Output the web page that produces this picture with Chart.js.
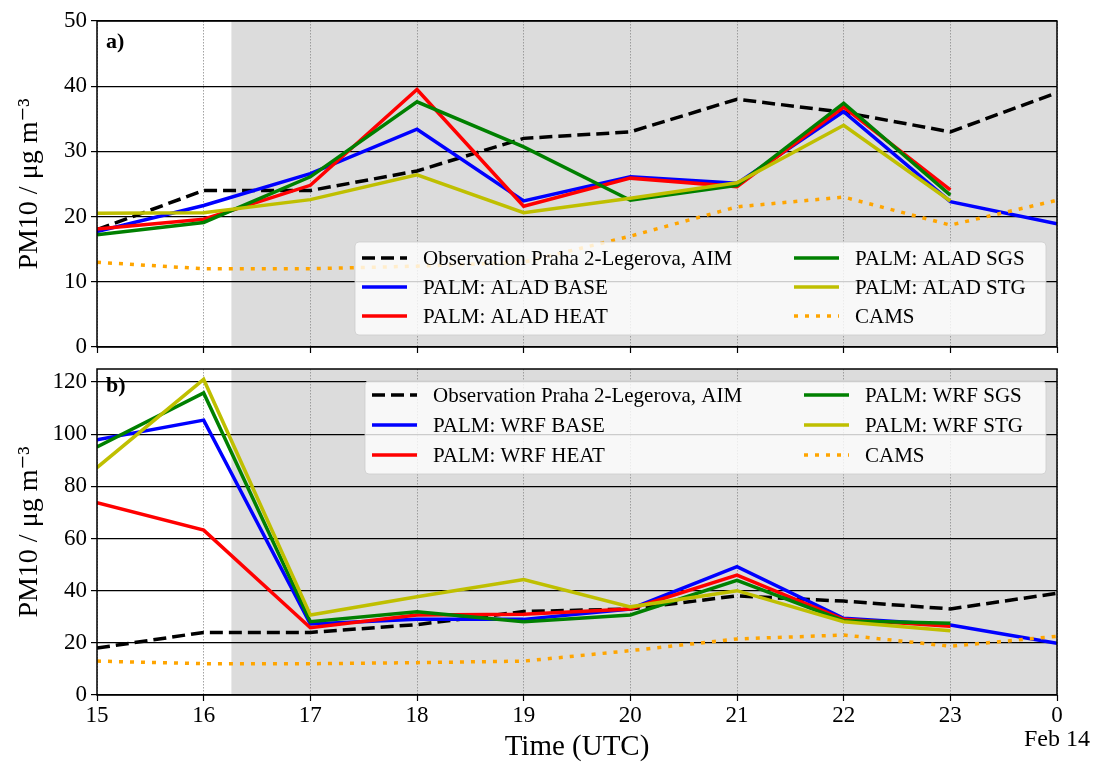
<!DOCTYPE html>
<html>
<head>
<meta charset="utf-8">
<script src="https://cdn.jsdelivr.net/npm/chart.js@4.4.1/dist/chart.umd.min.js"></script>
<style>
  body { margin: 0; background: #fff; }
  #wrap { position: relative; width: 1093px; height: 768px; }
  canvas { position: absolute; left: 0; }
</style>
</head>
<body>
<div id="wrap">
  <canvas id="panelA" width="1093" height="368" style="top:0"></canvas>
  <canvas id="panelB" width="1093" height="420" style="top:348px"></canvas>
</div>
<script>
// hours of Feb 13 (24 = 0 UTC Feb 14)
const hours = [15, 16, 17, 18, 19, 20, 21, 22, 23, 24];
const shadeFrom = 16.26;

const observation = [18, 24, 24, 27, 32, 33, 38, 36, 33, 39];
const cams = [13, 12, 12, 12.4, 13, 17, 21.5, 23, 18.7, 22.5];

const aladBase = [17.7, 21.7, 26.6, 33.4, 22.4, 26.1, 25.1, 36.1, 22.3, 18.9];
const aladHeat = [18.1, 19.6, 24.8, 39.5, 21.6, 25.9, 24.6, 36.8, 24.1];
const aladSgs  = [17.2, 19.1, 26.1, 37.6, 30.7, 22.5, 24.8, 37.4, 23.3];
const aladStg  = [20.5, 20.6, 22.6, 26.4, 20.6, 22.8, 25.2, 34.0, 22.4];

const wrfBase = [97.9, 105.4, 27.2, 29, 29, 33, 49.2, 29.4, 26.8, 19.8];
const wrfHeat = [73.7, 63.2, 25.8, 30.7, 31, 33, 46, 29, 26.4];
const wrfSgs  = [95.1, 115.8, 28.1, 31.9, 28.1, 30.7, 44, 28.5, 27.5];
const wrfStg  = [87.2, 121, 30.7, 37.7, 44.3, 33.8, 40, 28.1, 24.6];

const obsLabel = 'Observation Praha 2-Legerova, AIM';
const FONT = "'Liberation Serif', 'DejaVu Serif', serif";

function series(label, vals, color, dash, i) {
  return {
    label: label,
    data: vals.map((v, k) => ({ x: hours[k], y: v })),
    borderColor: color,
    backgroundColor: color,
    borderWidth: 3.5,
    borderDash: dash || [],
    pointRadius: 0,
    tension: 0,
    fill: false,
    order: -i
  };
}

function datasets(model, base, heat, sgs, stg) {
  return [
    series(obsLabel, observation, '#000000', [13, 6], 0),
    series('PALM: ' + model + ' BASE', base, '#0000ff', null, 1),
    series('PALM: ' + model + ' HEAT', heat, '#ff0000', null, 2),
    series('PALM: ' + model + ' SGS', sgs, '#008000', null, 3),
    series('PALM: ' + model + ' STG', stg, '#bfbf00', null, 4),
    series('CAMS', cams, '#ffa500', [4, 7], 5)
  ];
}

// grey shading, frame, panel letter and a two-column legend box
const panelPlugin = {
  id: 'panel',
  beforeDraw(chart, args, o) {
    const { ctx, chartArea: a, scales: { x } } = chart;
    const x0 = x.getPixelForValue(shadeFrom);
    ctx.save();
    ctx.fillStyle = '#dcdcdc';
    ctx.fillRect(x0, a.top, a.right - x0, a.bottom - a.top);
    ctx.restore();
  },
  afterDraw(chart, args, o) {
    const { ctx, chartArea: a } = chart;
    ctx.save();
    ctx.strokeStyle = '#000';
    ctx.lineWidth = 1.5;
    ctx.strokeRect(a.left, a.top, a.right - a.left, a.bottom - a.top);

    ctx.fillStyle = '#000';
    ctx.font = 'bold 22px ' + FONT;
    ctx.textAlign = 'left';
    ctx.textBaseline = 'alphabetic';
    ctx.fillText(o.letter, 106, o.letterY);

    // legend
    const L = o.legend;
    ctx.fillStyle = 'rgba(255,255,255,0.8)';
    ctx.strokeStyle = 'rgba(204,204,204,0.8)';
    ctx.lineWidth = 1;
    ctx.beginPath();
    ctx.roundRect(L.x, L.y, L.w, L.h, 4);
    ctx.fill();
    ctx.stroke();
    ctx.font = '21px ' + FONT;
    ctx.textBaseline = 'middle';
    chart.data.datasets.forEach((ds, i) => {
      const col = Math.floor(i / 3);
      const row = i % 3;
      const lx = col === 0 ? L.c1 : L.c2;
      const ly = L.y + L.row0 + row * L.rowH;
      ctx.strokeStyle = ds.borderColor;
      ctx.lineWidth = ds.borderWidth;
      ctx.setLineDash(ds.borderDash);
      ctx.beginPath();
      ctx.moveTo(lx, ly);
      ctx.lineTo(lx + 45, ly);
      ctx.stroke();
      ctx.setLineDash([]);
      ctx.fillStyle = '#000';
      ctx.fillText(ds.label, lx + 61, ly + 1);
    });

    if (o.note) {
      ctx.font = '24px ' + FONT;
      ctx.textAlign = 'right';
      ctx.fillText(o.note, 1090, o.noteY);
    }
    ctx.restore();
  }
};

function makeOptions(cfg) {
  return {
    responsive: false,
    animation: false,
    layout: { padding: { left: 0, right: 36, top: cfg.padTop, bottom: 0 } },
    plugins: {
      legend: { display: false },
      tooltip: { enabled: false },
      panel: cfg.panel
    },
    scales: {
      x: {
        type: 'linear',
        min: 15,
        max: 24,
        afterFit: s => { s.height = cfg.xHeight; },
        ticks: {
          display: cfg.showX,
          stepSize: 1,
          autoSkip: false,
          maxRotation: 0,
          padding: 1,
          color: '#000',
          font: { family: FONT, size: 23 },
          callback: v => String(v % 24)
        },
        grid: { color: '#8c8c8c', lineWidth: 0.8, tickLength: 6, tickColor: '#000', tickWidth: 1.2 },
        border: { display: false, dash: [1.5, 1.5] },
        title: {
          display: cfg.showX,
          text: 'Time (UTC)',
          color: '#000',
          font: { family: FONT, size: 29 },
          padding: { top: 0, bottom: 3 }
        }
      },
      y: {
        min: 0,
        max: cfg.yMax,
        afterFit: s => { s.width = 97; },
        ticks: {
          stepSize: cfg.yStep,
          includeBounds: false,
          padding: 4,
          color: '#000',
          font: { family: FONT, size: 23 }
        },
        grid: { color: '#000', lineWidth: 1.2, tickLength: 6, tickColor: '#000', tickWidth: 1.2 },
        border: { display: false },
        title: {
          display: true,
          text: 'PM10 / μg m⁻³',
          color: '#000',
          font: { family: FONT, size: 28 },
          padding: { top: 13, bottom: 0 }
        }
      }
    }
  };
}

new Chart(document.getElementById('panelA'), {
  type: 'line',
  data: { datasets: datasets('ALAD', aladBase, aladHeat, aladSgs, aladStg) },
  options: makeOptions({
    padTop: 21, xHeight: 21, showX: false, yMax: 50, yStep: 10,
    panel: {
      letter: 'a)', letterY: 48,
      legend: { x: 355, y: 242, w: 691, h: 93, c1: 362, c2: 794, row0: 16, rowH: 29 }
    }
  }),
  plugins: [panelPlugin]
});

new Chart(document.getElementById('panelB'), {
  type: 'line',
  data: { datasets: datasets('WRF', wrfBase, wrfHeat, wrfSgs, wrfStg) },
  options: makeOptions({
    padTop: 21, xHeight: 73, showX: true, yMax: 125, yStep: 20,
    panel: {
      letter: 'b)', letterY: 44,
      legend: { x: 365, y: 33, w: 681, h: 93, c1: 372, c2: 804, row0: 14, rowH: 30 },
      note: 'Feb 14', noteY: 392
    }
  }),
  plugins: [panelPlugin]
});
</script>
</body>
</html>
